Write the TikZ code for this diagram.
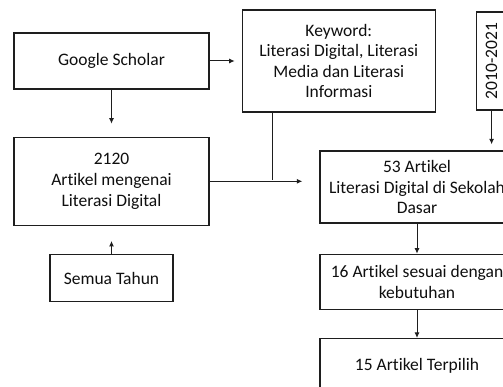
\documentclass[tikz,border=0pt]{standalone}
\usepackage{fontspec}
\setmainfont{Carlito}[Ligatures=NoCommon]
\usepackage{graphicx}
\usetikzlibrary{arrows.meta, positioning}
\definecolor{inkline}{RGB}{30, 30, 30}
\definecolor{inktext}{RGB}{15, 15, 15}
\tikzset{
  font=\fontsize{17.5}{20.6}\selectfont,
  baseblock/.style={
    rectangle, draw=inkline, fill=white, line width=1.3pt,
    text=inktext, align=center, inner sep=0pt
  },
  flowline/.style={
    draw=inkline, -{Latex[length=5.5pt, width=5pt]}, line width=1pt
  },
  joinline/.style={
    draw=inkline, line width=1pt
  }
}

\begin{document}
\begin{tikzpicture}[x=1pt, y=-1pt]
  \useasboundingbox (0,0) rectangle (503,387);
  \clip (0,0) rectangle (503,387);
  \fill[white] (0,0) rectangle (503,387);

  \node[baseblock, minimum width=195pt, minimum height=56pt] (google) at (111.5,61) {Google Scholar};

  \node[baseblock, right=32pt of google, minimum width=193pt, minimum height=102pt] (keyword) {
    Keyword:\\
    Literasi Digital, Literasi\\
    Media dan Literasi\\
    Informasi
  };

  \node[baseblock, right=40pt of keyword, minimum width=30pt, minimum height=98pt] (years) {\rotatebox{90}{2010-2021}};

  \node[baseblock, below=47pt of google, minimum width=195pt, minimum height=88pt] (art2120) {
    2120\\
    Artikel mengenai\\
    Literasi Digital
  };

  \node[baseblock, below=28pt of art2120, minimum width=123pt, minimum height=47pt] (allyears) {Semua Tahun};

  \node[baseblock, minimum width=194pt, minimum height=72pt] (art53) at (417,187) {
    53 Artikel\\
    Literasi Digital di Sekolah\\
    Dasar
  };

  \node[baseblock, below=30pt of art53, minimum width=194pt, minimum height=55pt] (art16) {
    16 Artikel sesuai dengan\\
    kebutuhan
  };

  \node[baseblock, below=28pt of art16, minimum width=194pt, minimum height=54pt] (art15) {15 Artikel Terpilih};

  \coordinate (join) at (272.7,180);

  \draw[flowline, shorten >=7pt] (google) -- (keyword);
  \draw[flowline, shorten >=13pt] (google) -- (art2120);
  \draw[flowline, shorten >=15pt] (allyears) -- (art2120);
  \draw[joinline] (keyword.south -| join) -- (join);
  \draw[flowline, shorten >=17pt] (art2120.east) -- (art2120.east -| art53.west);
  \draw[flowline, shorten >=6pt] (years.south) -- (years.south |- art53.north);
  \draw[flowline] (art53) -- (art16);
  \draw[flowline] (art16) -- (art15);
\end{tikzpicture}
\end{document}
